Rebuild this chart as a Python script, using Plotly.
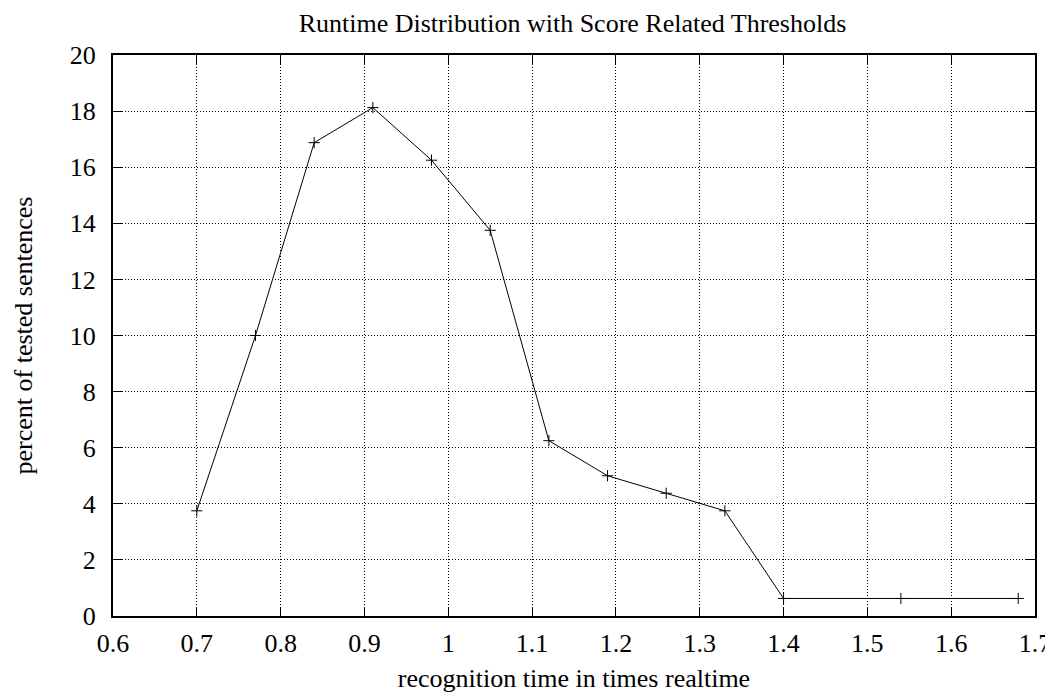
import plotly.graph_objects as go

x_vals = [0.70, 0.77, 0.84, 0.91, 0.98, 1.05, 1.12, 1.19, 1.26, 1.33, 1.40, 1.54, 1.68]
y_vals = [3.75, 10.0, 16.875, 18.125, 16.25, 13.75, 6.25, 5.0, 4.375, 3.75, 0.625, 0.625, 0.625]

title = "Runtime Distribution with Score Related Thresholds"
x_title = "recognition time in times realtime"
y_title = "percent of tested sentences"

font_family = "Liberation Serif, Times New Roman, serif"
FS = 26

fig = go.Figure()
fig.add_trace(go.Scatter(
    x=x_vals, y=y_vals, mode="lines+markers",
    line=dict(color="black", width=1),
    marker=dict(symbol="cross-thin", size=8, line=dict(color="black", width=1), color="black"),
    showlegend=False,
))

axis_common = dict(
    showline=True, linecolor="black", linewidth=2, mirror="ticks",
    ticks="inside", ticklen=9, tickcolor="black", tickwidth=1,
    showgrid=True, gridcolor="black", gridwidth=1, griddash="1px,2px",
    zeroline=False, automargin=False,
    tickfont=dict(family=font_family, size=FS, color="black"),
)

# page body has an 8px default margin, so the figure is 1045x687 placed at (8, 8)
fig.update_layout(
    width=1045, height=687,
    paper_bgcolor="white", plot_bgcolor="white",
    margin=dict(l=105, r=18, t=47, b=79),
    font=dict(family=font_family, color="black"),
    title=dict(text=title, x=0.5402, xanchor="center", y=0.979, yanchor="middle",
               font=dict(family=font_family, size=FS, color="black")),
    xaxis=dict(range=[0.6, 1.7], tick0=0.6, dtick=0.1, ticklabelstandoff=3,
               title=dict(text=x_title, font=dict(family=font_family, size=FS), standoff=12),
               **axis_common),
    yaxis=dict(range=[0, 20], tick0=0, dtick=2, ticklabelstandoff=10,
               title=dict(text=y_title, font=dict(family=font_family, size=FS), standoff=30),
               **axis_common),
)

fig.write_html("out.html")
